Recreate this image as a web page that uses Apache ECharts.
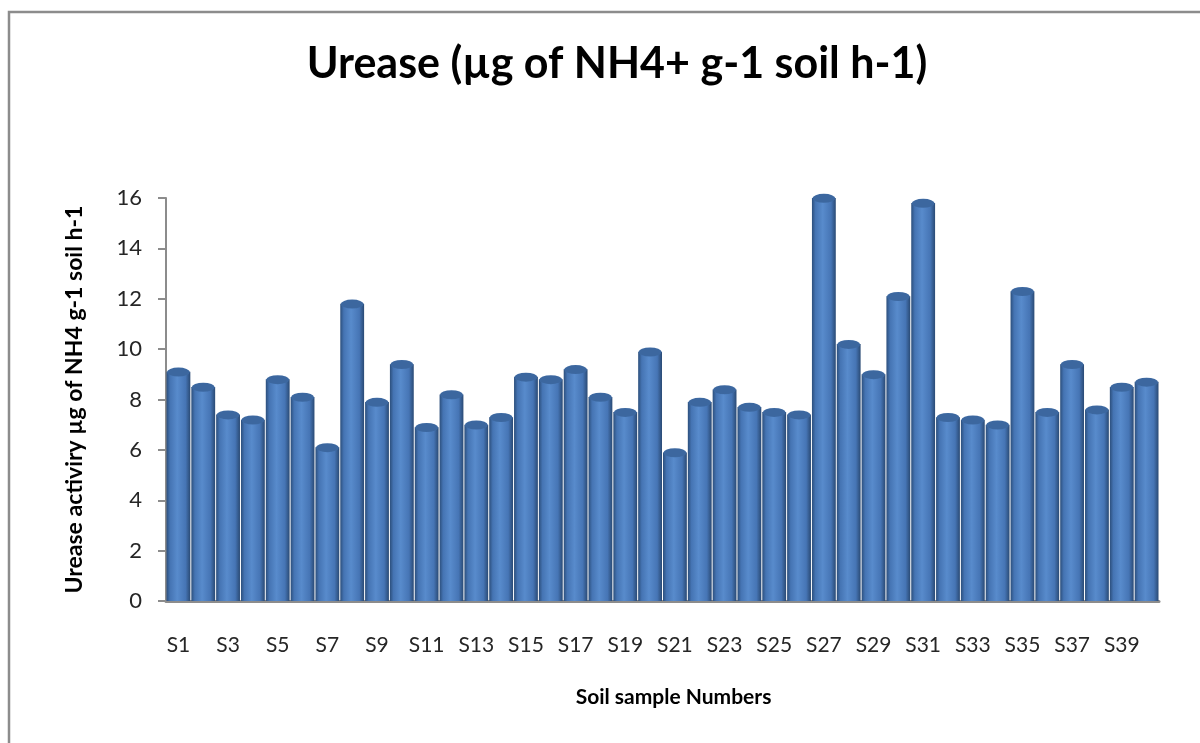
<!DOCTYPE html>
<html>
<head>
<meta charset="utf-8">
<script src="https://cdn.jsdelivr.net/npm/echarts@6/dist/echarts.min.js"></script>
<style>
  html, body { margin: 0; padding: 0; background: #fff; }
  #main { width: 1200px; height: 743px; }
</style>
</head>
<body>
<div id="main"></div>
<script>
// soil samples S1..S40
var samples = [];
for (var i = 1; i <= 40; i++) samples.push("S" + i);

// urease activity
var urease = [
  9.1, 8.5, 7.4, 7.2, 8.8, 8.1, 6.1, 11.8, 7.9, 9.4,
  6.9, 8.2, 7.0, 7.3, 8.9, 8.8, 9.2, 8.1, 7.5, 9.9,
  5.9, 7.9, 8.4, 7.7, 7.5, 7.4, 16.0, 10.2, 9.0, 12.1,
  15.8, 7.3, 7.2, 7.0, 12.3, 7.5, 9.4, 7.6, 8.5, 8.7
];

var yTicks = { min: 0, max: 16, step: 2 };

var font = "Lato, 'Open Sans', sans-serif";

var myChart = echarts.init(document.getElementById("main"));

var option = {
  animation: false,
  backgroundColor: "#fff",
  title: {
    text: "Urease (µg of NH4+ g-1 soil h-1)",
    left: 612,
    textAlign: "center",
    top: 38,
    textStyle: { fontFamily: font, fontSize: 43, fontWeight: "bold", color: "#000" }
  },
  graphic: [
    {
      type: "rect",
      shape: { x: 9, y: 12, width: 1300, height: 900 },
      style: { fill: "none", stroke: "#8c8c8c", lineWidth: 2.5 },
      silent: true
    }
  ],
  grid: { left: 166, right: 41, top: 198, bottom: 142 },
  xAxis: {
    type: "category",
    data: samples,
    name: "Soil sample Numbers",
    nameLocation: "middle",
    nameGap: 86,
    nameTextStyle: {
      fontFamily: font, fontSize: 21, fontWeight: "bold", color: "#000",
      padding: [0, 0, 0, 22]
    },
    axisLine: { lineStyle: { color: "#8c8c8c", width: 3 } },
    axisTick: { show: false },
    axisLabel: {
      interval: 1,
      margin: 34,
      fontFamily: font,
      fontSize: 21,
      color: "#262626"
    }
  },
  yAxis: {
    type: "value",
    min: yTicks.min,
    max: yTicks.max,
    interval: yTicks.step,
    name: "Urease activiry µg of NH4 g-1 soil h-1",
    nameLocation: "middle",
    nameRotate: 90,
    nameGap: 80,
    nameTextStyle: { fontFamily: font, fontSize: 23, fontWeight: "bold", color: "#000" },
    axisLine: { show: true, lineStyle: { color: "#8c8c8c", width: 2 } },
    axisTick: { show: true, inside: false, length: 8, lineStyle: { color: "#8c8c8c", width: 2 } },
    splitLine: { show: false },
    axisLabel: { margin: 24, fontFamily: font, fontSize: 22, color: "#262626" }
  },
  series: [
    {
      name: "Urease",
      type: "bar",
      data: urease,
      barCategoryGap: "4%",
      itemStyle: {
        color: new echarts.graphic.LinearGradient(0, 0, 1, 0, [
          { offset: 0, color: "#2c4f7c" },
          { offset: 0.15, color: "#4574b3" },
          { offset: 0.45, color: "#588bcc" },
          { offset: 0.8, color: "#4675b5" },
          { offset: 1, color: "#2a4a74" }
        ])
      }
    },
    {
      name: "cap",
      type: "pictorialBar",
      data: urease,
      symbol: "circle",
      symbolSize: ["96%", 9],
      symbolPosition: "end",
      symbolOffset: [0, "-50%"],
      barCategoryGap: "4%",
      z: 3,
      itemStyle: { color: "#3c679f", borderColor: "#7aa5db", borderWidth: 1 }
    }
  ]
};

myChart.setOption(option);
</script>
</body>
</html>
